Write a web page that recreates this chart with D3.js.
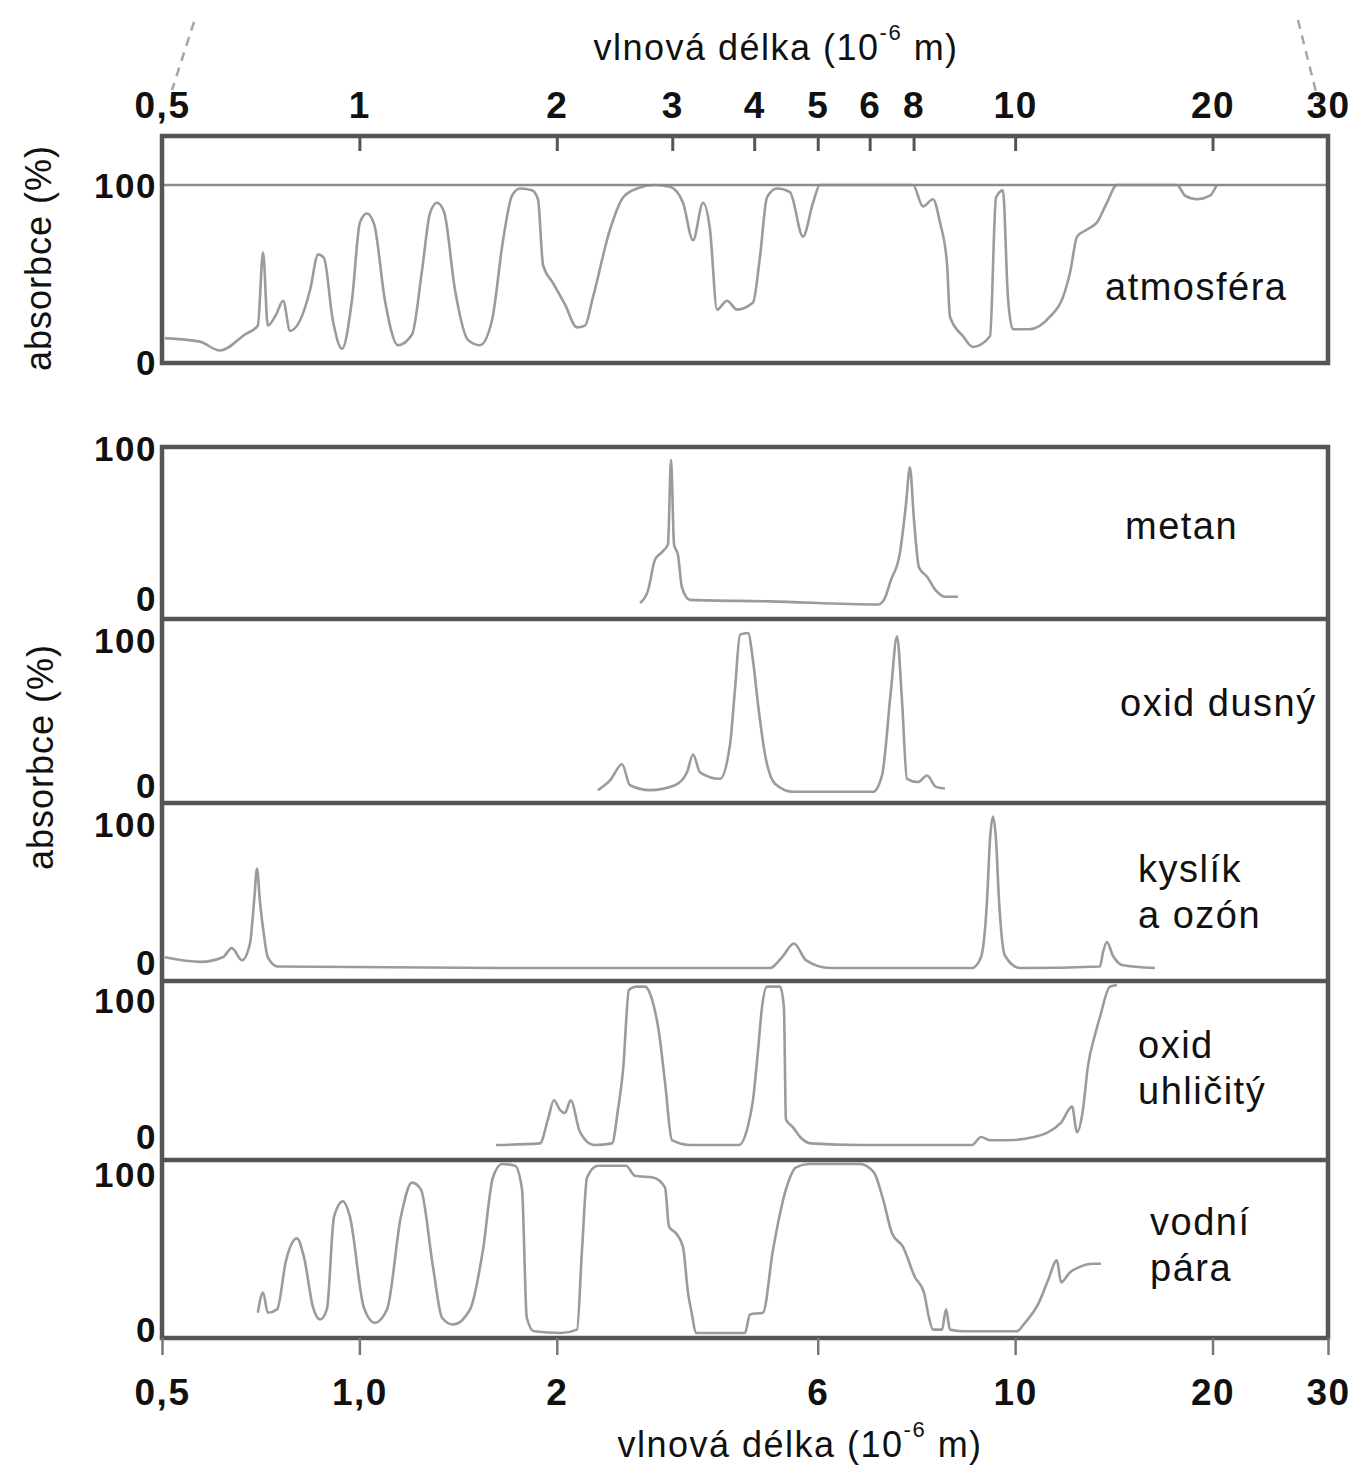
<!DOCTYPE html>
<html>
<head>
<meta charset="utf-8">
<script src="https://cdn.jsdelivr.net/npm/d3@7"></script>
<style>
  html, body { margin: 0; padding: 0; background: #fff; }
  svg { display: block; }
  text { font-family: "Liberation Sans", Arial, sans-serif; fill: #111; }
</style>
</head>
<body>
<svg id="chart" width="1351" height="1465"></svg>
<script>
// Absorption spectra: [wavelength (10^-6 m), absorption (%)]
const atmosfera = [
  [0.505,14],[0.571,12],[0.613,7],[0.669,16],[0.700,21],[0.713,62],[0.725,21],[0.746,27],
  [0.765,35],[0.784,18],[0.812,24],[0.841,41],[0.865,61],[0.883,59],[0.911,24],[0.941,8],
  [0.974,35],[1.002,79],[1.027,84],[1.053,78],[1.094,35],[1.145,10],[1.203,16],[1.246,52],
  [1.281,84],[1.313,90],[1.346,85],[1.399,41],[1.464,13],[1.527,10],[1.593,24],[1.656,69],
  [1.709,94],[1.758,98],[1.833,97],[1.872,92],[1.906,55],[1.973,45],[2.058,33],[2.147,20],
  [2.208,21],[2.271,37],[2.411,75],[2.524,93],[2.651,98],[2.823,100],[2.976,99],[3.115,90],
  [3.227,69],[3.342,90],[3.425,75],[3.511,30],[3.636,35],[3.766,30],[3.983,34],[4.083,60],
  [4.184,93],[4.334,98],[4.535,96],[4.748,71],[4.918,90],[5.04,100],[6.985,100],[7.235,88],
  [7.494,92],[7.68,79],[7.872,56],[7.955,26],[8.329,15],[8.624,9],[9.155,15],[9.35,93],
  [9.58,97],[9.75,37],[9.92,19],[10.53,19],[11.3,26],[11.83,37],[12.13,51],[12.43,71],
  [12.87,75],[13.33,79],[13.8,90],[14.3,100],[17.65,100],[18.16,94],[18.94,92],[19.82,94],
  [20.3,100]
];

const metan = [
  [2.679,2],[2.755,10],[2.823,30],[2.894,35],[2.955,40],[2.987,95],[3.019,40],[3.061,33],
  [3.104,12],[3.193,4],[4.228,3],[6.18,1],[6.31,4],[6.467,17],[6.67,34],[6.816,66],
  [6.91,90],[7.01,56],[7.135,25],[7.34,19],[7.574,10],[7.816,6],[8.18,6]
];

const oxidDusny = [
  [2.311,3],[2.411,9],[2.515,19],[2.586,6],[2.774,3],[3.029,6],[3.159,14],[3.227,25],
  [3.307,14],[3.548,10],[3.674,31],[3.739,65],[3.806,99],[3.914,100],[3.983,83],[4.054,56],
  [4.155,25],[4.303,7],[4.585,2],[6.07,2],[6.265,12],[6.467,65],[6.605,98],[6.72,59],
  [6.84,10],[7.11,8],[7.34,12],[7.574,5],[7.816,4]
];

const kyslikOzon = [
  [0.505,7],[0.573,4],[0.619,7],[0.639,13],[0.662,5],[0.681,16],[0.691,44],[0.698,65],
  [0.705,44],[0.715,22],[0.725,7],[0.751,1],[1.638,0],[4.228,0],[4.41,7],[4.6,16],
  [4.8,5],[5.22,0],[8.595,0],[8.87,7],[9.06,44],[9.155,84],[9.25,99],[9.35,84],
  [9.45,44],[9.65,8],[10.17,0],[13.47,1],[13.61,10],[13.8,17],[14.1,8],[14.55,2],[16.34,0]
];

const oxidUhlicity = [
  [1.616,0],[1.885,1],[1.939,16],[1.98,28],[2.022,22],[2.058,20],[2.10,28],[2.17,8],
  [2.279,0],[2.428,1],[2.479,22],[2.524,47],[2.577,97],[2.641,99],[2.726,99],[2.794,91],
  [2.864,70],[2.925,39],[2.997,3],[3.193,0],[3.792,0],[3.914,12],[3.983,28],[4.054,59],
  [4.111,86],[4.184,99],[4.38,99],[4.44,86],[4.472,16],[4.585,11],[4.70,5],[4.883,1],
  [5.80,0],[8.595,0],[8.87,5],[9.155,3],[9.75,3],[10.68,5],[11.75,14],[12.21,24],
  [12.43,8],[12.69,22],[12.91,49],[13.24,69],[13.47,80],[13.95,99],[14.3,100]
];

const vodniPara = [
  [0.700,12],[0.713,24],[0.725,12],[0.749,14],[0.773,43],[0.803,56],[0.823,45],[0.85,15],
  [0.871,8],[0.892,14],[0.915,69],[0.944,78],[0.967,69],[1.016,15],[1.056,6],[1.102,14],
  [1.157,69],[1.203,89],[1.241,85],[1.295,39],[1.337,9],[1.389,5],[1.475,14],[1.543,49],
  [1.598,92],[1.65,100],[1.727,99],[1.77,85],[1.80,9],[1.846,1],[2.03,0],[2.147,2],
  [2.185,49],[2.224,92],[2.311,99],[2.55,99],[2.632,93],[2.804,92],[2.925,86],[2.966,63],
  [3.04,59],[3.115,51],[3.17,24],[3.215,11],[3.26,0],[3.872,0],[3.941,11],[4.125,12],
  [4.272,49],[4.472,85],[4.633,98],[4.849,100],[5.80,100],[6.09,95],[6.29,79],[6.49,59],
  [6.745,51],[7.035,33],[7.26,24],[7.39,9],[7.494,2],[7.735,2],[7.845,14],[7.955,2],
  [8.329,1],[10.06,1],[10.35,6],[10.87,18],[11.22,31],[11.58,43],[11.75,30],[12.13,36],
  [12.52,39],[13.14,41],[13.52,41]
];

// Panel names (one entry per text line)
const panelNames = [
  ["atmosféra"], ["metan"], ["oxid dusný"], ["kyslík", "a ozón"], ["oxid", "uhličitý"], ["vodní", "pára"]
];
const seriesList = [atmosfera, metan, oxidDusny, kyslikOzon, oxidUhlicity, vodniPara];

// Axis ticks (wavelength position, printed text)
const topTickAt   = [0.5, 1, 2, 3, 4, 5, 6, 7, 10, 20, 30];
const topTickText = ["0,5", "1", "2", "3", "4", "5", "6", "8", "10", "20", "30"];
const botTickAt   = [0.5, 1, 2, 5, 10, 20, 30];
const botTickText = ["0,5", "1,0", "2", "6", "10", "20", "30"];
const yTicks = [0, 100];

const axisTitle = "vlnová délka (10";
const axisExp = "-6";
const axisUnit = " m)";
const yTitle = "absorbce (%)";

// ---------- layout ----------
const X0 = 162, X1 = 1328;
// frame box of each panel, pixel rows of 0 % / 100 %, rows of the 0 / 100 labels
const layout = [
  { top: 136,  bottom: 363,  y0: 363,  y100: 185,  lab0: 363,  lab100: 186,  nameX: 1105, nameY: 300 },
  { top: 447,  bottom: 619,  y0: 606,  y100: 452,  lab0: 599,  lab100: 449,  nameX: 1125, nameY: 539 },
  { top: 619,  bottom: 803,  y0: 795,  y100: 633,  lab0: 786,  lab100: 641,  nameX: 1120, nameY: 716 },
  { top: 803,  bottom: 981,  y0: 968,  y100: 815,  lab0: 963,  lab100: 825,  nameX: 1138, nameY: 882 },
  { top: 981,  bottom: 1160, y0: 1145, y100: 985,  lab0: 1137, lab100: 1001, nameX: 1138, nameY: 1058 },
  { top: 1160, bottom: 1338, y0: 1333, y100: 1164, lab0: 1330, lab100: 1175, nameX: 1150, nameY: 1235 }
];

const frameColor = "#555";
const lineColor = "#9b9b9b";
const FONT = "'Liberation Sans', Arial, sans-serif";

const svg = d3.select("#chart");
const x = d3.scaleLog().domain([0.5, 30]).range([X0, X1]);

// spectra
layout.forEach((p, i) => {
  const y = d3.scaleLinear().domain([0, 100]).range([p.y0, p.y100]);
  const line = d3.line().x(d => x(d[0])).y(d => y(d[1])).curve(d3.curveMonotoneX);
  svg.append("path")
    .datum(seriesList[i])
    .attr("d", line)
    .attr("fill", "none")
    .attr("stroke", lineColor)
    .attr("stroke-width", 2.6)
    .attr("stroke-linejoin", "round");
});

// 100 % reference line in the atmosphere panel
{
  const p = layout[0];
  const y = d3.scaleLinear().domain([0, 100]).range([p.y0, p.y100]);
  svg.append("line")
    .attr("x1", X0).attr("x2", X1).attr("y1", y(100)).attr("y2", y(100))
    .attr("stroke", "#8c8c8c").attr("stroke-width", 2.6);
}

// frames
const upper = layout[0];
svg.append("rect")
  .attr("x", X0).attr("y", upper.top).attr("width", X1 - X0).attr("height", upper.bottom - upper.top)
  .attr("fill", "none").attr("stroke", frameColor).attr("stroke-width", 4.5);
const lower = layout.slice(1);
svg.append("rect")
  .attr("x", X0).attr("y", lower[0].top)
  .attr("width", X1 - X0).attr("height", lower[lower.length - 1].bottom - lower[0].top)
  .attr("fill", "none").attr("stroke", frameColor).attr("stroke-width", 4.5);
svg.selectAll("line.sep")
  .data(lower.slice(1))
  .join("line")
  .attr("class", "sep")
  .attr("x1", X0).attr("x2", X1)
  .attr("y1", d => d.top).attr("y2", d => d.top)
  .attr("stroke", frameColor).attr("stroke-width", 4.5);

// y labels (0 / 100) and panel names
layout.forEach((p, i) => {
  const yLab = d3.scaleLinear().domain([0, 100]).range([p.lab0, p.lab100]);
  const ax = svg.append("g")
    .attr("transform", `translate(${X0 - 3},0)`)
    .call(d3.axisLeft(yLab).tickValues(yTicks).tickSize(0).tickPadding(2).tickFormat(d3.format("d")));
  ax.select(".domain").remove();
  ax.selectAll("text")
    .attr("font-size", 35).attr("font-weight", "bold").attr("letter-spacing", 1.5)
    .attr("font-family", FONT).attr("fill", "#111");

  const t = svg.append("text")
    .attr("x", p.nameX).attr("y", p.nameY)
    .attr("font-size", 38).attr("letter-spacing", 1.5);
  panelNames[i].forEach((s, k) => {
    t.append("tspan").attr("x", p.nameX).attr("dy", k === 0 ? 0 : 46).text(s);
  });
});

// top wavelength axis (ticks point into the panel)
const topAxis = svg.append("g")
  .attr("transform", `translate(0,${upper.top})`)
  .call(d3.axisTop(x).tickValues(topTickAt).tickSizeInner(-15).tickSizeOuter(0).tickPadding(18)
    .tickFormat((d, i) => topTickText[i]));
topAxis.select(".domain").remove();
topAxis.selectAll("line").attr("stroke", frameColor).attr("stroke-width", 3);
topAxis.selectAll("text")
  .attr("font-size", 37).attr("font-weight", "bold").attr("letter-spacing", 1.5)
  .attr("font-family", FONT).attr("fill", "#111");

// bottom wavelength axis
const lastPanel = layout[layout.length - 1];
const botAxis = svg.append("g")
  .attr("transform", `translate(0,${lastPanel.bottom})`)
  .call(d3.axisBottom(x).tickValues(botTickAt).tickSizeInner(17).tickSizeOuter(0).tickPadding(24)
    .tickFormat((d, i) => botTickText[i]));
botAxis.select(".domain").remove();
botAxis.selectAll("line").attr("stroke", "#777").attr("stroke-width", 2.5);
botAxis.selectAll("text")
  .attr("font-size", 37).attr("font-weight", "bold").attr("letter-spacing", 1.5)
  .attr("font-family", FONT).attr("fill", "#111");

// axis titles
function wavelengthTitle(cx, baseline) {
  const t = svg.append("text")
    .attr("x", cx).attr("y", baseline)
    .attr("text-anchor", "middle")
    .attr("font-size", 36).attr("letter-spacing", 1.5);
  t.append("tspan").text(axisTitle);
  t.append("tspan").attr("font-size", 22).attr("dy", -20).text(axisExp);
  t.append("tspan").attr("dy", 20).text(axisUnit);
}
wavelengthTitle(776, 60);
wavelengthTitle(800, 1457);

function yAxisTitle(cx, cy) {
  svg.append("text")
    .attr("transform", `translate(${cx},${cy}) rotate(-90)`)
    .attr("text-anchor", "middle")
    .attr("dominant-baseline", "central")
    .attr("font-size", 36).attr("letter-spacing", 1)
    .text(yTitle);
}
yAxisTitle(38, 258);
yAxisTitle(40, 757);

// faint dashed strokes above the top axis ends
const dash = svg.append("g")
  .attr("stroke", "#a5a5a5").attr("stroke-width", 2.5).attr("stroke-dasharray", "9 7").attr("fill", "none");
dash.append("line").attr("x1", x(0.5) + 32).attr("y1", 22).attr("x2", x(0.5) + 10).attr("y2", 90);
dash.append("line").attr("x1", x(30) - 30).attr("y1", 20).attr("x2", x(30) - 10).attr("y2", 100);
</script>
</body>
</html>
